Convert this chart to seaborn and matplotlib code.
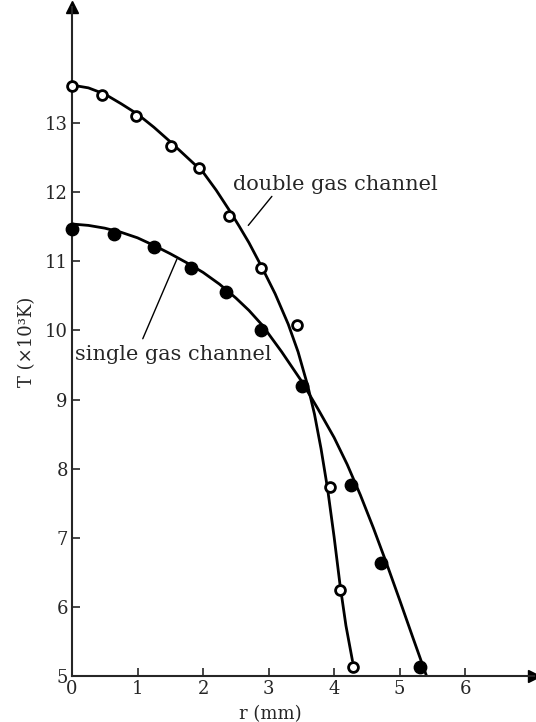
import numpy as np
import pandas as pd
import matplotlib
matplotlib.use("Agg")
import matplotlib.pyplot as plt
import seaborn as sns

# measured points, r in mm, T in 10^3 K
double_r = [0.0, 0.46, 0.98, 1.51, 1.94, 2.40, 2.88, 3.43, 3.94, 4.09, 4.29]
double_T = [13.54, 13.40, 13.10, 12.67, 12.35, 11.66, 10.91, 10.08, 7.73, 6.25, 5.13]
single_r = [0.0, 0.64, 1.25, 1.82, 2.35, 2.88, 3.51, 4.26, 4.71, 5.31]
single_T = [11.47, 11.39, 11.21, 10.91, 10.55, 10.01, 9.20, 7.77, 6.64, 5.13]

# hand drawn curves
double_curve_r = [0.0, 0.25, 0.5, 0.75, 1.0, 1.25, 1.5, 1.75, 2.0, 2.2, 2.4, 2.55, 2.7,
                  2.9, 3.1, 3.3, 3.45, 3.6, 3.7, 3.8, 3.9, 4.0, 4.09, 4.18, 4.28]
double_curve_T = [13.55, 13.51, 13.42, 13.28, 13.13, 12.94, 12.73, 12.51, 12.29, 12.03, 11.74,
                  11.51, 11.27, 10.91, 10.53, 10.09, 9.69, 9.19, 8.79, 8.29, 7.71, 7.01, 6.32,
                  5.73, 5.22]
single_curve_r = [0.0, 0.25, 0.5, 0.75, 1.0, 1.25, 1.5, 1.75, 2.0, 2.25, 2.5, 2.7, 2.9, 3.2,
                  3.5, 3.75, 4.0, 4.2, 4.4, 4.6, 4.8, 5.0, 5.2, 5.41]
single_curve_T = [11.54, 11.52, 11.48, 11.42, 11.34, 11.23, 11.11, 10.98, 10.84, 10.67, 10.47,
                  10.29, 10.08, 9.69, 9.27, 8.87, 8.45, 8.06, 7.62, 7.14, 6.63, 6.10, 5.56, 5.0]

x_ticks = [0, 1, 2, 3, 4, 5, 6]
y_ticks = [5, 6, 7, 8, 9, 10, 11, 12, 13]

sns.set_style("ticks")
plt.rcParams['font.family'] = ['DejaVu Serif', 'DejaVu Sans']

fig = plt.figure(figsize=(5.36, 7.22), dpi=100)
ax = fig.add_axes([72 / 536, 46 / 722, 462 / 536, 669 / 722])

dc = pd.DataFrame({"r": double_curve_r, "T": double_curve_T})
sc = pd.DataFrame({"r": single_curve_r, "T": single_curve_T})
sns.lineplot(data=dc, x="r", y="T", color="black", lw=2, sort=False, ax=ax)
sns.lineplot(data=sc, x="r", y="T", color="black", lw=2, sort=False, ax=ax)

sns.scatterplot(x=double_r, y=double_T, s=50, color="white", edgecolor="black",
                linewidth=2, zorder=5, clip_on=False, ax=ax)
sns.scatterplot(x=single_r, y=single_T, s=80, color="black", edgecolor="black",
                linewidth=1, zorder=5, clip_on=False, ax=ax)

ax.set_xlim(0, 7.05)
ax.set_ylim(5, 14.68)
ax.set_xticks(x_ticks)
ax.set_yticks(y_ticks)
ax.tick_params(direction="in", length=6, width=1.2, labelsize=13, pad=3)
for s in ["top", "right"]:
    ax.spines[s].set_visible(False)
for s in ["left", "bottom"]:
    ax.spines[s].set_linewidth(1.5)

# axis arrows
ax.plot(1, 0, marker=">", ms=9, color="black", transform=ax.transAxes, clip_on=False)
ax.plot(0, 1, marker="^", ms=9, color="black", transform=ax.transAxes, clip_on=False)

ax.set_xlabel("r (mm)", fontsize=13)
ax.xaxis.set_label_coords(0.43, -0.043)
ax.set_ylabel("T (×10³K)", fontsize=13, labelpad=6)

ax.text(2.45, 11.97, "double gas channel", fontsize=15, va="bottom")
ax.plot([3.05, 2.69], [11.94, 11.52], color="black", lw=1)
ax.text(0.05, 9.65, "single gas channel", fontsize=15, va="center")
ax.plot([1.08, 1.60], [9.88, 11.03], color="black", lw=1)

fig.savefig("out.png", dpi=100)
